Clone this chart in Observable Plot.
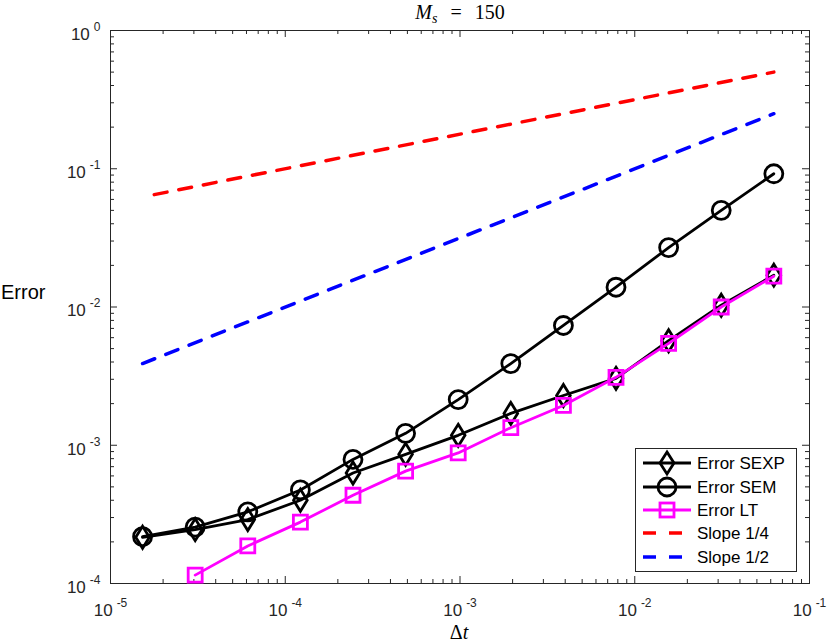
<!DOCTYPE html>
<html>
<head>
<meta charset="utf-8">
<script src="https://cdn.jsdelivr.net/npm/d3@7"></script>
<script src="https://cdn.jsdelivr.net/npm/@observablehq/plot@0.6"></script>
<style>
  body { margin: 0; background: #fff; }
  #chart { position: relative; width: 830px; height: 642px; }
</style>
</head>
<body>
<div id="chart"></div>
<script>
// ---- data ----
const dt = [1.52587890625e-5, 3.0517578125e-5, 6.103515625e-5, 1.220703125e-4, 2.44140625e-4,
            4.8828125e-4, 9.765625e-4, 1.953125e-3, 3.90625e-3, 7.8125e-3, 1.5625e-2, 3.125e-2, 6.25e-2];
const errSEXP = [2.16e-4, 2.45e-4, 2.9e-4, 4.0e-4, 6.3e-4, 8.6e-4, 1.18e-3, 1.7e-3, 2.29e-3, 3.05e-3, 5.7e-3, 1.03e-2, 1.7e-2];
const errSEM  = [2.18e-4, 2.56e-4, 3.3e-4, 4.75e-4, 7.9e-4, 1.22e-3, 2.14e-3, 3.9e-3, 7.35e-3, 1.39e-2, 2.69e-2, 5.0e-2, 9.2e-2];
const dtLT    = [3.0517578125e-5, 6.103515625e-5, 1.220703125e-4, 2.44140625e-4,
                 4.8828125e-4, 9.765625e-4, 1.953125e-3, 3.90625e-3, 7.8125e-3, 1.5625e-2, 3.125e-2, 6.25e-2];
const errLT   = [1.15e-4, 1.87e-4, 2.78e-4, 4.35e-4, 6.5e-4, 8.8e-4, 1.34e-3, 1.94e-3, 3.1e-3, 5.45e-3, 1.0e-2, 1.67e-2];
const slopeQuarterX = [1.78e-5, 6.25e-2];
const slopeQuarterY = [0.065, 0.5];
const slopeHalfX = [1.526e-5, 6.25e-2];
const slopeHalfY = [3.9e-3, 0.25];

const xMajor = [1e-5, 1e-4, 1e-3, 1e-2, 1e-1];
const yMajor = [1e-4, 1e-3, 1e-2, 1e-1, 1];
const minorMult = [2, 3, 4, 5, 6, 7, 8, 9];
const legendLabels = ["Error SEXP", "Error SEM", "Error LT", "Slope 1/4", "Slope 1/2"];
const yLabelText = "Error";

// ---- helpers ----
const rows = (xs, ys) => xs.map((x, i) => ({x, y: ys[i]}));
const minorOf = (majors) => majors.slice(0, -1).flatMap(m => minorMult.map(k => m * k));
const xMinor = minorOf(xMajor);
const yMinor = minorOf(yMajor);

const diamondTall = {draw(ctx, size) { const r = Math.sqrt(size / Math.PI); const w = r * 0.62;
  ctx.moveTo(0, -r); ctx.lineTo(w, 0); ctx.lineTo(0, r); ctx.lineTo(-w, 0); ctx.closePath(); }};
const squareSym = {draw(ctx, size) { const r = Math.sqrt(size / Math.PI); ctx.rect(-r, -r, 2 * r, 2 * r); }};

const W = 830, H = 642, mL = 110, mR = 21, mT = 30, mB = 59;
const iW = W - mL - mR, iH = H - mT - mB;
const axisColor = "#262626";
const LW = 2.8;
const sans = "'Liberation Sans', Arial, sans-serif";
const serif = "'Liberation Serif', 'DejaVu Serif', serif";

const fmt = d => "10^" + Math.round(Math.log10(d));

const plot = Plot.plot({
  width: W, height: H,
  marginLeft: mL, marginRight: mR, marginTop: mT, marginBottom: mB,
  style: {fontFamily: sans, background: "#fff", overflow: "visible"},
  x: {type: "log", domain: [1e-5, 1e-1], label: null},
  y: {type: "log", domain: [1e-4, 1], label: null},
  marks: [
    // ticks (inward, mirrored)
    Plot.tickX(xMajor, {x: d => d, insetTop: iH - 7, stroke: axisColor}),
    Plot.tickX(xMajor, {x: d => d, insetBottom: iH - 7, stroke: axisColor}),
    Plot.tickX(xMinor, {x: d => d, insetTop: iH - 4, stroke: axisColor}),
    Plot.tickX(xMinor, {x: d => d, insetBottom: iH - 4, stroke: axisColor}),
    Plot.tickY(yMajor, {y: d => d, insetRight: iW - 7, stroke: axisColor}),
    Plot.tickY(yMajor, {y: d => d, insetLeft: iW - 7, stroke: axisColor}),
    Plot.tickY(yMinor, {y: d => d, insetRight: iW - 4, stroke: axisColor}),
    Plot.tickY(yMinor, {y: d => d, insetLeft: iW - 4, stroke: axisColor}),
    Plot.frame({stroke: axisColor, strokeWidth: 1}),
    Plot.axisX({ticks: xMajor, tickSize: 0, tickPadding: 20, tickFormat: fmt, fontSize: 17, color: axisColor}),
    Plot.axisY({ticks: yMajor, tickSize: 0, tickPadding: 10, tickFormat: fmt, fontSize: 17, color: axisColor, dy: 4}),
    // series
    Plot.line(rows(dt, errSEXP), {x: "x", y: "y", stroke: "#000", strokeWidth: LW}),
    Plot.dot(rows(dt, errSEXP), {x: "x", y: "y", symbol: diamondTall, r: 11, stroke: "#000", fill: "none", strokeWidth: LW}),
    Plot.line(rows(dt, errSEM), {x: "x", y: "y", stroke: "#000", strokeWidth: LW}),
    Plot.dot(rows(dt, errSEM), {x: "x", y: "y", symbol: "circle", r: 9, stroke: "#000", fill: "none", strokeWidth: LW}),
    Plot.line(rows(dtLT, errLT), {x: "x", y: "y", stroke: "#ff00ff", strokeWidth: LW}),
    Plot.dot(rows(dtLT, errLT), {x: "x", y: "y", symbol: squareSym, r: 7, stroke: "#ff00ff", fill: "none", strokeWidth: LW}),
    Plot.line(rows(slopeQuarterX, slopeQuarterY), {x: "x", y: "y", stroke: "#ff0000", strokeWidth: 3.5, strokeDasharray: "13,12"}),
    Plot.line(rows(slopeHalfX, slopeHalfY), {x: "x", y: "y", stroke: "#0000ff", strokeWidth: 3.5, strokeDasharray: "13,12"})
  ]
});

const NS = "http://www.w3.org/2000/svg";
// superscript tick labels
plot.querySelectorAll('g[aria-label="x-axis tick label"] text, g[aria-label="y-axis tick label"] text').forEach(t => {
  const [b, e] = t.textContent.split("^");
  t.textContent = "";
  t.setAttribute("font-size", "17");
  t.style.fontSize = "17px";
  const t1 = document.createElementNS(NS, "tspan"); t1.textContent = b;
  t1.setAttribute("font-size", "17");
  const t2 = document.createElementNS(NS, "tspan"); t2.textContent = e;
  t2.setAttribute("dy", "-9"); t2.setAttribute("dx", "4"); t2.setAttribute("font-size", "12");
  t.appendChild(t1); t.appendChild(t2);
});

const svg = d3.select(plot);
// title
const title = svg.append("text").attr("x", 460).attr("y", 19).attr("text-anchor", "middle")
  .attr("font-family", serif).attr("font-size", 20).attr("fill", "#000");
title.append("tspan").attr("font-style", "italic").text("M");
title.append("tspan").attr("font-style", "italic").attr("font-size", 14).attr("dy", 4).text("s");
title.append("tspan").attr("dy", -4).attr("dx", 13).text("=");
title.append("tspan").attr("dx", 13).text("150");
// x label
const xl = svg.append("text").attr("x", 459).attr("y", 639).attr("text-anchor", "middle")
  .attr("font-family", serif).attr("font-size", 20).attr("fill", "#000");
xl.append("tspan").text("Δ");
xl.append("tspan").attr("font-style", "italic").text("t");
// y label
svg.append("text").attr("x", 1).attr("y", 299).attr("text-anchor", "start").attr("font-size", 20).attr("fill", "#000")
  .attr("font-family", sans).text(yLabelText);

// legend
const lg = svg.append("g");
lg.append("rect").attr("x", 635.5).attr("y", 448.5).attr("width", 161).attr("height", 123)
  .attr("fill", "#fff").attr("stroke", axisColor).attr("stroke-width", 1);
const rowY = [463, 487, 510, 533, 557];
const legColors = ["#000", "#000", "#ff00ff", "#ff0000", "#0000ff"];
legendLabels.forEach((lab, i) => {
  const y = rowY[i];
  const ln = lg.append("line").attr("x1", 643).attr("x2", 691).attr("y1", y).attr("y2", y)
    .attr("stroke", legColors[i]).attr("stroke-width", i < 3 ? LW : 3.5);
  if (i >= 3) ln.attr("stroke-dasharray", "13,13");
  const cx = 667;
  if (i === 0) lg.append("path").attr("d", `M${cx},${y-11}L${cx+7},${y}L${cx},${y+11}L${cx-7},${y}Z`)
    .attr("fill", "none").attr("stroke", "#000").attr("stroke-width", LW);
  if (i === 1) lg.append("circle").attr("cx", cx).attr("cy", y).attr("r", 9)
    .attr("fill", "none").attr("stroke", "#000").attr("stroke-width", LW);
  if (i === 2) lg.append("rect").attr("x", cx - 7).attr("y", y - 7).attr("width", 14).attr("height", 14)
    .attr("fill", "none").attr("stroke", "#ff00ff").attr("stroke-width", LW);
  lg.append("text").attr("x", 697).attr("y", y + 6).attr("text-anchor", "start").attr("font-size", 17).attr("fill", "#000")
    .attr("font-family", sans).text(lab);
});

document.getElementById("chart").appendChild(plot);
</script>
</body>
</html>
